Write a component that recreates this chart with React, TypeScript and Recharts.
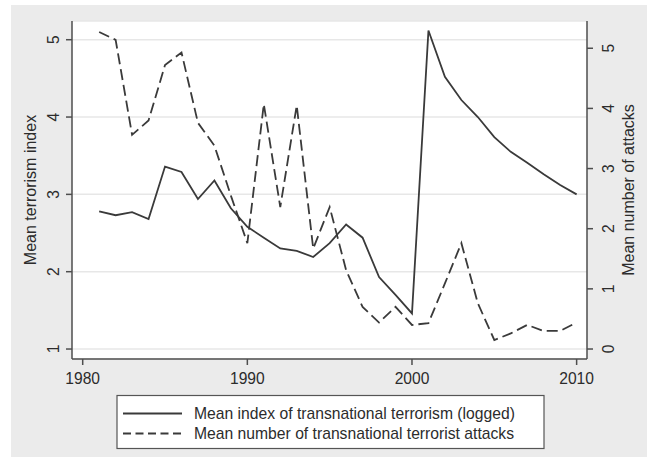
import React from 'react';
import { LineChart, Line, XAxis, YAxis, CartesianGrid } from 'recharts';

const years = [
  1981, 1982, 1983, 1984, 1985, 1986, 1987, 1988, 1989, 1990,
  1991, 1992, 1993, 1994, 1995, 1996, 1997, 1998, 1999, 2000,
  2001, 2002, 2003, 2004, 2005, 2006, 2007, 2008, 2009, 2010,
];
const indexValues = [
  2.78, 2.73, 2.77, 2.68, 3.36, 3.29, 2.94, 3.18, 2.82, 2.58,
  2.44, 2.3, 2.27, 2.19, 2.37, 2.61, 2.44, 1.93, 1.7, 1.46,
  5.12, 4.52, 4.22, 4.0, 3.74, 3.55, 3.41, 3.26, 3.12, 3.0,
];
const attackValues = [
  5.27, 5.14, 3.56, 3.8, 4.72, 4.93, 3.76, 3.38, 2.55, 1.76,
  4.07, 2.36, 4.05, 1.67, 2.36, 1.31, 0.7, 0.44, 0.7, 0.4,
  0.43, 1.09, 1.76, 0.76, 0.15, 0.26, 0.4, 0.3, 0.3, 0.44,
];
const xTicks = [1980, 1990, 2000, 2010];
const leftTicks = [1, 2, 3, 4, 5];
const rightTicks = [0, 1, 2, 3, 4, 5];
const seriesNames = [
  'Mean index of transnational terrorism (logged)',
  'Mean number of transnational terrorist attacks',
];
const leftTitle = 'Mean terrorism index';
const rightTitle = 'Mean number of attacks';

const data = years.map((year, i) => ({
  year,
  index: indexValues[i],
  attacks: attackValues[i],
}));

const FONT = '"Liberation Sans", Arial, sans-serif';
const TEXT = '#2c2c2c';
const LINE = '#3a3a3a';
const AXIS = '#4e4e4e';
const DASH = '11 5';

const LeftTick = (p: any) => {
  const bx = p.x - 7;
  return (
    <text x={bx} y={p.y} transform={`rotate(-90, ${bx}, ${p.y})`} textAnchor="middle"
      fontSize={15.6} fill={TEXT} fontFamily={FONT}>{p.payload.value}</text>
  );
};

const RightTick = (p: any) => {
  const bx = p.x + 21.5;
  return (
    <text x={bx} y={p.y} transform={`rotate(-90, ${bx}, ${p.y})`} textAnchor="middle"
      fontSize={15.6} fill={TEXT} fontFamily={FONT}>{p.payload.value}</text>
  );
};

const BottomTick = (p: any) => (
  <text x={p.x} y={p.y + 18.5} textAnchor="middle" fontSize={15.6} fill={TEXT} fontFamily={FONT}>
    {p.payload.value}
  </text>
);

const AxisTitle = (p: any) => {
  const vb = p.viewBox || {};
  const cy = (vb.y ?? 21) + (vb.height ?? 338) / 2;
  const bx = p.side === 'left' ? (vb.x ?? 0) + 36 : (vb.x ?? 587) + 46.5;
  return (
    <text x={bx} y={cy} transform={`rotate(-90, ${bx}, ${cy})`} textAnchor="middle"
      fontSize={16} fill={TEXT} fontFamily={FONT}>{p.text}</text>
  );
};

export default function App() {
  return (
    <div style={{ position: 'absolute', left: 0, top: 0, width: 647, height: 457, background: '#fff' }}>
      <div style={{ position: 'absolute', left: 11, top: 5, right: 0, bottom: 0, background: '#ebebeb' }} />
      <div style={{ position: 'absolute', left: 0, top: 0 }}>
        <LineChart width={647} height={457} data={data}
          margin={{ top: 21, right: 0, bottom: 0, left: 0 }}>
          <CartesianGrid yAxisId="left" horizontal vertical={false} fill="#ffffff"
            stroke="#e7e7e7" strokeWidth={1.5} />
          <XAxis dataKey="year" type="number" domain={[1979.35, 2010.63]} allowDataOverflow
            ticks={xTicks} height={98} tickSize={6} tickMargin={0}
            stroke={AXIS} strokeWidth={1.5} tickLine={{ stroke: AXIS, strokeWidth: 1.5 }}
            tick={<BottomTick />} interval={0} />
          <YAxis yAxisId="left" orientation="left" domain={[0.871, 5.242]} allowDataOverflow
            ticks={leftTicks} width={72} tickSize={6} tickMargin={0}
            stroke={AXIS} strokeWidth={1.5} tickLine={{ stroke: AXIS, strokeWidth: 1.5 }}
            tick={<LeftTick />} interval={0}
            label={<AxisTitle side="left" text={leftTitle} />} />
          <YAxis yAxisId="right" orientation="right" domain={[-0.166, 5.453]} allowDataOverflow
            ticks={rightTicks} width={60} tickSize={6} tickMargin={0}
            stroke={AXIS} strokeWidth={1.5} tickLine={{ stroke: AXIS, strokeWidth: 1.5 }}
            tick={<RightTick />} interval={0}
            label={<AxisTitle side="right" text={rightTitle} />} />
          <Line yAxisId="left" type="linear" dataKey="index" name={seriesNames[0]}
            stroke={LINE} strokeWidth={1.8} dot={false} isAnimationActive={false} />
          <Line yAxisId="right" type="linear" dataKey="attacks" name={seriesNames[1]}
            stroke={LINE} strokeWidth={1.8} strokeDasharray={DASH} dot={false} isAnimationActive={false} />
        </LineChart>
      </div>
      <svg width={647} height={457} style={{ position: 'absolute', left: 0, top: 0, pointerEvents: 'none' }}>
        <rect x={117} y={395.5} width={427} height={53} fill="#ffffff" stroke="#555" strokeWidth={1.2} />
        <line x1={123} x2={182} y1={413.5} y2={413.5} stroke={LINE} strokeWidth={1.8} />
        <line x1={123} x2={182} y1={433.5} y2={433.5} stroke={LINE} strokeWidth={1.8} strokeDasharray="8 4.5" />
        <text x={194} y={419} fontSize={15.7} fill={TEXT} fontFamily={FONT}>{seriesNames[0]}</text>
        <text x={194} y={439} fontSize={15.7} fill={TEXT} fontFamily={FONT}>{seriesNames[1]}</text>
      </svg>
    </div>
  );
}
